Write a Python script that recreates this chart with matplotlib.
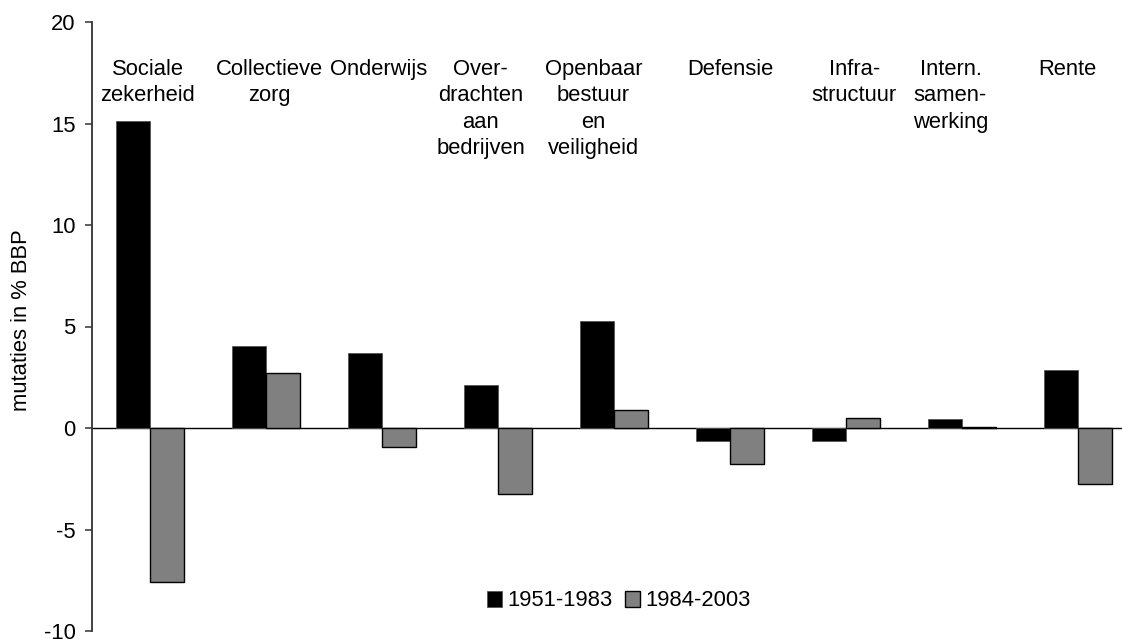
import matplotlib
matplotlib.use("Agg")
import matplotlib.pyplot as plt
import numpy as np

categories = ["Sociale\nzekerheid", "Collectieve\nzorg", "Onderwijs",
              "Over-\ndrachten\naan\nbedrijven", "Openbaar\nbestuur\nen\nveiligheid",
              "Defensie", "Infra-\nstructuur", "Intern.\nsamen-\nwerking", "Rente"]
series_names = ["1951-1983", "1984-2003"]
values_1951_1983 = [15.1, 4.05, 3.68, 2.1, 5.26, -0.66, -0.65, 0.43, 2.87]
values_1984_2003 = [-7.57, 2.7, -0.92, -3.24, 0.89, -1.77, 0.48, 0.05, -2.76]
yticks = [-10, -5, 0, 5, 10, 15, 20]
ylabel = "mutaties in % BBP"

# layout: label horizontal offsets (in category units) relative to category centre
label_offsets = [-0.02, 0.03, -0.03, -0.15, -0.18, 0.0, 0.07, -0.10, -0.09]

plt.rcParams['font.family'] = ['Liberation Sans', 'DejaVu Sans']
FS = 15.8
W, H = 1122, 639
fig = plt.figure(figsize=(W / 100, H / 100), dpi=100)
left_px, top_px, bottom_px = 92.3, 22, 631
ax = fig.add_axes([left_px / W, 1 - bottom_px / H, 1 - left_px / W, (bottom_px - top_px) / H])

x = np.arange(len(categories))
bw = 0.293
ax.bar(x - bw / 2, values_1951_1983, bw, color="black", edgecolor="#555555", linewidth=0.6,
       label=series_names[0], zorder=3)
ax.bar(x + bw / 2, values_1984_2003, bw, color="#808080", edgecolor="black", linewidth=1.0,
       label=series_names[1], zorder=3)
ax.axhline(0, color="black", linewidth=1.0, zorder=2)

ax.set_xlim(-0.5, 8.5 - 14 / 116)
ax.set_ylim(-10, 20)
ax.set_yticks(yticks)
ax.set_yticklabels([str(t) for t in yticks], fontsize=FS)
ax.set_xticks([])
for s in ["top", "right", "bottom"]:
    ax.spines[s].set_visible(False)
ax.spines["left"].set_color("#333333")
ax.spines["left"].set_linewidth(1.3)
ax.tick_params(axis="y", length=5, width=1.1, color="#333333", pad=7)
fig.text(22 / W, 1 - 320 / H, ylabel, rotation=90, ha="center", va="center", fontsize=FS)

for i, lab in enumerate(categories):
    ax.text(i + label_offsets[i], 18.2, lab, ha="center", va="top", fontsize=FS,
            linespacing=1.35)

leg = fig.legend(loc="center", bbox_to_anchor=(619 / W, 1 - 601 / H), ncol=2, frameon=False,
                 fontsize=FS, handlelength=0.7, handleheight=0.7, handletextpad=0.25,
                 columnspacing=0.55)

fig.savefig("out.png", dpi=100)
